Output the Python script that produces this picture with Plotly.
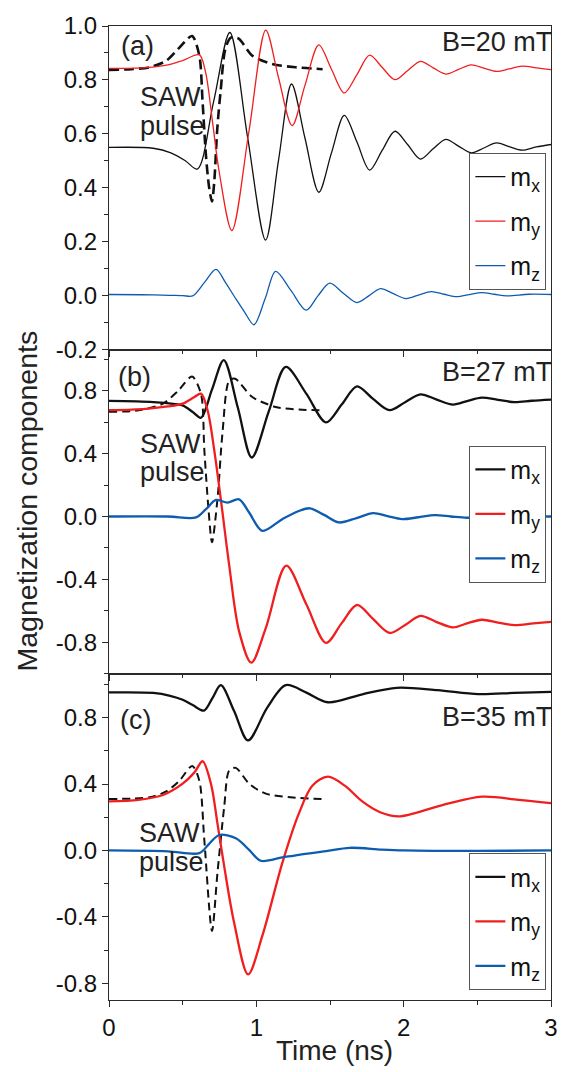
import plotly.graph_objects as go

# ---------------- data (time in ns) ----------------
# Panel (a) B=20 mT
a_mx_t = [0, 0.30, 0.42, 0.52, 0.60, 0.71, 0.82, 0.94, 1.063, 1.15, 1.239, 1.33, 1.424, 1.51, 1.597, 1.683,
          1.769, 1.855, 1.941, 2.028, 2.114, 2.20, 2.286, 2.372, 2.458, 2.544, 2.63, 2.716, 2.803, 2.90, 3.0]
a_mx_v = [0.55, 0.547, 0.53, 0.50, 0.470, 0.72, 0.976, 0.59, 0.207, 0.50, 0.785, 0.585, 0.384, 0.53, 0.669, 0.57,
          0.466, 0.54, 0.610, 0.56, 0.507, 0.545, 0.580, 0.555, 0.530, 0.548, 0.567, 0.553, 0.540, 0.552, 0.561]
a_my_t = [0, 0.25, 0.40, 0.50, 0.613, 0.655, 0.703, 0.748, 0.834, 0.95, 1.064, 1.15, 1.243, 1.33, 1.424, 1.51,
          1.597, 1.683, 1.769, 1.855, 1.941, 2.028, 2.114, 2.20, 2.286, 2.372, 2.458, 2.544, 2.63, 2.716, 2.803,
          2.90, 3.0]
a_my_v = [0.843, 0.846, 0.856, 0.872, 0.893, 0.83, 0.643, 0.459, 0.242, 0.61, 0.985, 0.81, 0.631, 0.78, 0.930, 0.84,
          0.752, 0.82, 0.892, 0.846, 0.801, 0.835, 0.869, 0.845, 0.822, 0.839, 0.856, 0.844, 0.832, 0.841, 0.851,
          0.845, 0.838]
a_mz_t = [0, 0.30, 0.50, 0.568, 0.647, 0.726, 0.79, 0.855, 0.92, 0.984, 1.06, 1.131, 1.235, 1.338, 1.418, 1.498,
          1.59, 1.683, 1.763, 1.843, 1.93, 2.016, 2.10, 2.188, 2.274, 2.36, 2.445, 2.53, 2.615, 2.70, 2.85, 3.0]
a_mz_v = [0.005, 0.004, 0.001, 0.0, 0.049, 0.098, 0.05, -0.006, -0.06, -0.107, -0.01, 0.091, 0.02, -0.053, 0.0, 0.047,
          0.01, -0.025, 0.0, 0.027, 0.008, -0.010, 0.003, 0.016, 0.006, -0.003, 0.005, 0.012, 0.006, 0.0, 0.006, 0.005]
a_saw_t = [0, 0.15, 0.275, 0.388, 0.478, 0.5635, 0.613, 0.635, 0.658, 0.68, 0.699, 0.714, 0.735, 0.759, 0.789,
           0.827, 0.878, 0.973, 1.108, 1.266, 1.45]
a_saw_v = [0.837, 0.840, 0.847, 0.871, 0.920, 0.963, 0.890, 0.72, 0.52, 0.40, 0.350, 0.42, 0.62, 0.767, 0.914,
           0.957, 0.954, 0.890, 0.859, 0.847, 0.840]

# Panel (b) B=27 mT
b_mx_t = [0, 0.30, 0.45, 0.50, 0.568, 0.624, 0.70, 0.779, 0.875, 0.969, 1.085, 1.20, 1.34, 1.473, 1.578, 1.683,
          1.79, 1.904, 2.01, 2.114, 2.22, 2.335, 2.43, 2.53, 2.64, 2.753, 2.87, 3.0]
b_mx_v = [0.735, 0.728, 0.715, 0.707, 0.665, 0.628, 0.81, 0.995, 0.69, 0.375, 0.67, 0.951, 0.78, 0.598, 0.71, 0.827,
          0.75, 0.676, 0.727, 0.777, 0.745, 0.712, 0.734, 0.756, 0.742, 0.727, 0.736, 0.743]
b_my_t = [0, 0.25, 0.40, 0.50, 0.58, 0.624, 0.669, 0.714, 0.759, 0.816, 0.883, 0.966, 1.064, 1.203, 1.34, 1.473,
          1.578, 1.683, 1.79, 1.904, 2.01, 2.114, 2.22, 2.335, 2.43, 2.53, 2.64, 2.753, 2.88, 3.0]
b_my_v = [0.676, 0.685, 0.70, 0.718, 0.76, 0.781, 0.676, 0.424, 0.109, -0.311, -0.731, -0.930, -0.71, -0.313, -0.56,
          -0.804, -0.68, -0.563, -0.65, -0.741, -0.69, -0.632, -0.67, -0.706, -0.68, -0.657, -0.675, -0.691, -0.68,
          -0.670]
b_mz_t = [0, 0.40, 0.59, 0.658, 0.726, 0.804, 0.883, 0.951, 1.041, 1.176, 1.289, 1.363, 1.46, 1.56, 1.68, 1.793,
          1.89, 1.99, 2.10, 2.212, 2.32, 2.43, 2.60, 2.80, 3.0]
b_mz_v = [0.0, 0.0, -0.006, 0.046, 0.105, 0.088, 0.109, 0.025, -0.091, -0.017, 0.035, 0.052, 0.01, -0.038, -0.01,
          0.021, 0.002, -0.017, -0.005, 0.008, 0.0, -0.008, -0.002, 0.0, 0.0]
b_saw_t = [0, 0.20, 0.367, 0.47, 0.5635, 0.624, 0.647, 0.675, 0.699, 0.736, 0.770, 0.816, 0.856, 0.973, 1.131,
           1.289, 1.45]
b_saw_v = [0.666, 0.675, 0.718, 0.80, 0.890, 0.781, 0.424, 0.05, -0.164, 0.109, 0.529, 0.865, 0.876, 0.760, 0.697,
           0.680, 0.676]

# Panel (c) B=35 mT
c_mx_t = [0, 0.30, 0.415, 0.50, 0.568, 0.645, 0.703, 0.759, 0.849, 0.944, 1.074, 1.20, 1.34, 1.486, 1.72, 1.953,
          2.23, 2.507, 2.75, 3.0]
c_mx_v = [0.951, 0.948, 0.931, 0.907, 0.875, 0.842, 0.919, 0.995, 0.839, 0.662, 0.86, 0.995, 0.95, 0.892, 0.94,
          0.979, 0.965, 0.941, 0.948, 0.955]
c_my_t = [0, 0.20, 0.367, 0.50, 0.58, 0.635, 0.692, 0.736, 0.782, 0.849, 0.944, 1.041, 1.176, 1.289, 1.38, 1.486,
          1.60, 1.719, 1.84, 1.966, 2.25, 2.532, 2.78, 3.0]
c_my_v = [0.295, 0.305, 0.334, 0.402, 0.47, 0.537, 0.402, 0.163, -0.096, -0.434, -0.746, -0.513, -0.076, 0.223,
          0.39, 0.444, 0.39, 0.295, 0.23, 0.205, 0.27, 0.324, 0.305, 0.285]
c_mz_t = [0, 0.40, 0.613, 0.68, 0.748, 0.861, 0.951, 1.030, 1.176, 1.289, 1.473, 1.634, 1.85, 2.0, 2.5, 3.0]
c_mz_v = [0.0, -0.005, -0.016, 0.04, 0.093, 0.073, 0.004, -0.062, -0.042, -0.026, -0.004, 0.016, 0.005, 0.0,
          -0.003, 0.0]
c_saw_t = [0, 0.275, 0.388, 0.478, 0.565, 0.613, 0.647, 0.699, 0.736, 0.782, 0.816, 0.861, 0.951, 1.064, 1.289, 1.45]
c_saw_v = [0.310, 0.32, 0.355, 0.42, 0.509, 0.42, 0.063, -0.484, -0.136, 0.263, 0.481, 0.497, 0.402, 0.342, 0.316,
           0.310]

panel_labels = ["(a)", "(b)", "(c)"]
field_labels = ["B=20 mT", "B=27 mT", "B=35 mT"]
legend_names = ["m<sub>x</sub>", "m<sub>y</sub>", "m<sub>z</sub>"]
x_tickvals = [0, 1, 2, 3]
y_ticks = {
    1: [-0.2, 0.0, 0.2, 0.4, 0.6, 0.8, 1.0],
    2: [-0.8, -0.4, 0.0, 0.4, 0.8],
    3: [-0.8, -0.4, 0.0, 0.4, 0.8],
}
y_ranges = {1: [-0.2, 1.0], 2: [-1.0, 1.06], 3: [-0.9, 1.064]}
y_minor = {1: 0.1, 2: 0.2, 3: 0.2}

# ---------------- styling ----------------
BLACK = "#111111"
RED = "#f01e1e"
BLUE = "#0d5cb0"
AX = "#2a2a2a"
FONT = "Liberation Sans, Arial, sans-serif"

W, H = 570, 1072
ML, MR, MT, MB = 109, 17, 18, 72
PW, PH = W - ML - MR, H - MT - MB


def px(xp):
    return (xp - ML) / PW


def py(yp):
    return (H - MB - yp) / PH


domains = {1: [py(344.5), 1.0], 2: [py(671), py(344.5)], 3: [0.0, py(671)]}

fig = go.Figure()

panels = [
    (1, "legend", 1.3, 2.6, "10px,5px",
     (a_mx_t, a_mx_v), (a_my_t, a_my_v), (a_mz_t, a_mz_v), (a_saw_t, a_saw_v)),
    (2, "legend2", 2.3, 2.0, "8px,5px",
     (b_mx_t, b_mx_v), (b_my_t, b_my_v), (b_mz_t, b_mz_v), (b_saw_t, b_saw_v)),
    (3, "legend3", 2.3, 2.0, "8px,5px",
     (c_mx_t, c_mx_v), (c_my_t, c_my_v), (c_mz_t, c_mz_v), (c_saw_t, c_saw_v)),
]

for idx, leg, lw, dlw, dash, mx, my, mz, saw in panels:
    xa = "x" if idx == 1 else f"x{idx}"
    ya = "y" if idx == 1 else f"y{idx}"
    fig.add_trace(go.Scatter(x=saw[0], y=saw[1], mode="lines", xaxis=xa, yaxis=ya,
                             line=dict(color=BLACK, width=dlw, dash=dash, shape="spline", smoothing=0.8),
                             showlegend=False, hoverinfo="skip"))
    for (tt, vv), col, name, grp in [(mx, BLACK, legend_names[0], "gx"),
                                     (my, RED, legend_names[1], "gy"),
                                     (mz, BLUE, legend_names[2], "gz")]:
        fig.add_trace(go.Scatter(x=tt, y=vv, mode="lines", xaxis=xa, yaxis=ya, name=name,
                                 legend=leg, legendgroup=f"{grp}{idx}",
                                 line=dict(color=col, width=lw, shape="spline", smoothing=0.9)))

axis_common = dict(showline=True, linecolor=AX, linewidth=1.3, mirror=True, ticks="outside",
                   tickcolor=AX, tickwidth=1.3, showgrid=False, zeroline=False,
                   tickfont=dict(family=FONT, size=24, color="#111"))

layout = dict(width=W, height=H, margin=dict(l=ML, r=MR, t=MT, b=MB),
              paper_bgcolor="white", plot_bgcolor="white", showlegend=True,
              font=dict(family=FONT, color="#111"))

for idx in (1, 2, 3):
    xk = "xaxis" if idx == 1 else f"xaxis{idx}"
    yk = "yaxis" if idx == 1 else f"yaxis{idx}"
    ya = "y" if idx == 1 else f"y{idx}"
    xa = "x" if idx == 1 else f"x{idx}"
    layout[xk] = dict(axis_common, range=[0, 3], domain=[0, 1], anchor=ya,
                      tickmode="array", tickvals=x_tickvals, ticktext=[str(v) for v in x_tickvals],
                      ticklen=6, showticklabels=(idx == 3),
                      minor=dict(ticks="outside", ticklen=3.5, dtick=0.5, tick0=0, tickcolor=AX,
                                 tickwidth=1.3, showgrid=False))
    if idx != 1:
        layout[xk]["matches"] = "x"
    vals = y_ticks[idx]
    layout[yk] = dict(axis_common, range=y_ranges[idx], domain=domains[idx], anchor=xa,
                      tickmode="array", tickvals=vals, ticktext=[f"{v:.1f}" for v in vals],
                      ticklen=6,
                      minor=dict(ticks="outside", ticklen=3.5, dtick=y_minor[idx], tick0=0, tickcolor=AX,
                                 tickwidth=1.3, showgrid=False))

legend_tops = {"legend": 146, "legend2": 441, "legend3": 852}
for leg, top in legend_tops.items():
    layout[leg] = dict(x=px(471), xanchor="left", y=py(top), yanchor="top",
                       bgcolor="white", bordercolor="#555", borderwidth=1,
                       font=dict(family=FONT, size=25, color="#111"),
                       itemwidth=30, tracegroupgap=9)

fig.update_layout(**layout)

ann_font = dict(family=FONT, size=27, color="#222")
annotations = []
label_pos = [(138, 38), (135, 371.5), (135.5, 717.5)]
field_pos = [34, 366.7, 715]
saw_pos = [(138, 90, 119), (138, 439, 468), (137, 832, 861)]
for i in range(3):
    annotations.append(dict(text=panel_labels[i], x=px(label_pos[i][0]), y=py(label_pos[i][1]),
                            xref="paper", yref="paper", xanchor="center", yanchor="middle",
                            showarrow=False, font=ann_font))
    annotations.append(dict(text=field_labels[i], x=px(556), y=py(field_pos[i]),
                            xref="paper", yref="paper", xanchor="right", yanchor="middle",
                            showarrow=False, font=ann_font))
    annotations.append(dict(text="SAW", x=px(saw_pos[i][0]), y=py(saw_pos[i][1]),
                            xref="paper", yref="paper", xanchor="left", yanchor="middle",
                            showarrow=False, font=ann_font))
    annotations.append(dict(text="pulse", x=px(saw_pos[i][0]), y=py(saw_pos[i][2]),
                            xref="paper", yref="paper", xanchor="left", yanchor="middle",
                            showarrow=False, font=ann_font))

annotations.append(dict(text="Magnetization components", x=px(27), y=py(497), xref="paper", yref="paper",
                        xanchor="center", yanchor="middle", textangle=-90, showarrow=False,
                        font=dict(family=FONT, size=28.5, color="#222")))
annotations.append(dict(text="Time (ns)", x=px(335.5), y=py(1051), xref="paper", yref="paper",
                        xanchor="center", yanchor="middle", showarrow=False,
                        font=dict(family=FONT, size=28, color="#222")))
fig.update_layout(annotations=annotations)

fig.write_html("out.html", config={"displayModeBar": False},
               post_script="document.body.style.margin='0px';document.body.style.overflow='hidden';")
